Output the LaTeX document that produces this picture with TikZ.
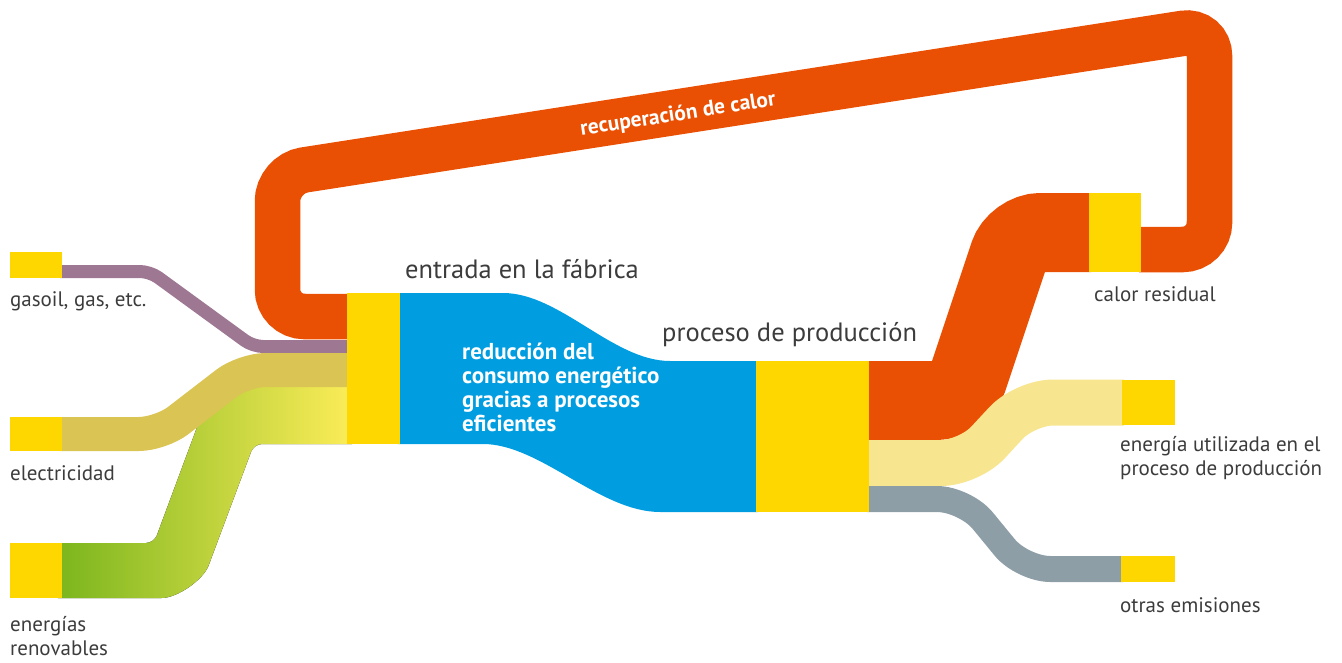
\documentclass[tikz,border=0pt]{standalone}
\usepackage{fontspec}
\setmainfont{PT Sans}
\usetikzlibrary{positioning}
\definecolor{boxyellow}{HTML}{FFD700}
\definecolor{heatorange}{HTML}{EA5004}
\definecolor{gaspurple}{HTML}{9E7893}
\definecolor{eleckhaki}{HTML}{DAC453}
\definecolor{renewdark}{HTML}{78B41C}
\definecolor{renewmid}{HTML}{CBD73C}
\definecolor{renewlight}{HTML}{FFEE5A}
\definecolor{flowblue}{HTML}{009EE0}
\definecolor{usedbeige}{HTML}{F7E590}
\definecolor{emitgray}{HTML}{8E9EA6}
\definecolor{txtgray}{HTML}{3C3C3C}

\begin{document}
\begin{tikzpicture}[x=1pt,y=-1pt,
    ybox/.style={fill=boxyellow, inner sep=0pt, outer sep=0pt, anchor=north west},
    band/.style={line cap=butt, rounded corners=#1},
    lbl/.style={text=txtgray, inner sep=0pt, align=left, font=\fontsize{21}{24}\selectfont},
    toplbl/.style={text=txtgray, inner sep=0pt, font=\fontsize{26.5}{28}\selectfont},
    wlbl/.style={text=white, inner sep=0pt, align=left, font=\bfseries\fontsize{23}{24}\selectfont}]
  \useasboundingbox (0,0) rectangle (1342,662);

  \draw[band=27pt, heatorange, line width=45.5pt] (349,316.5) -- (277.5,316.5) -- (277.5,174.1)
    -- (1209.5,29.2) -- (1209.5,249.5) -- (1139,249.5);
  \draw[band=10pt, gaspurple, line width=13pt] (60,271.5) -- (150,271.5) -- (253,346.5) -- (349,346.5);
  \fill[rounded corners=8pt, left color=renewdark, middle color=renewmid, right color=renewlight]
    (50,543) -- (154,543) -- (212,387) -- (360,387) -- (360,444) -- (254,444) -- (211.5,557.7)
    .. controls (203.3,579.9) and (177.2,598) .. (153.5,598) -- (50,598) -- cycle;
  \draw[band=22pt, eleckhaki, line width=34pt] (60,434) -- (160.7,434) -- (243.8,370) -- (349,370);
  \fill[flowblue] (398,293) -- (503,293) .. controls (560,293) and (613,361) .. (670,361)
    -- (758,361) -- (758,512) -- (660,512) .. controls (600,512) and (540,444) .. (483,444)
    -- (398,444) -- cycle;
  \draw[band=24pt, heatorange, line width=79pt] (867,400.5) -- (960.5,400.5) -- (1016.5,232.5) -- (1091,232.5);
  \draw[band=28pt, usedbeige, line width=46pt] (867,463) -- (969,463) -- (1025,402.5) -- (1124,402.5);
  \draw[band=28pt, emitgray, line width=26pt] (867,499) -- (965,499) -- (1022.4,569) -- (1123,569);

  \node[ybox, minimum width=52pt, minimum height=26pt] (gasoil) at (10,252) {};
  \node[ybox, minimum width=52pt, minimum height=34pt] (elec) at (10,417) {};
  \node[ybox, minimum width=52pt, minimum height=55pt] (renov) at (10,543) {};
  \node[ybox, minimum width=53pt, minimum height=151pt] (entrada) at (347,293) {};
  \node[ybox, minimum width=113pt, minimum height=151pt] (proceso) at (756,361) {};
  \node[ybox, minimum width=52pt, minimum height=79pt] (calor) at (1089,193) {};
  \node[ybox, minimum width=53pt, minimum height=45pt] (util) at (1122,380) {};
  \node[ybox, minimum width=54pt, minimum height=26pt] (otras) at (1121,556) {};

  \node[lbl, below=28pt of gasoil.south west, anchor=base west] (gasoil-lbl) {gasoil, gas, etc.};
  \node[lbl, below=29pt of elec.south west, anchor=base west] (elec-lbl) {electricidad};
  \node[lbl, below=57pt of renov.south west, anchor=base west] (renov-lbl) {energías\\renovables};
  \node[lbl, below=29pt of calor.south west, anchor=base west, xshift=5pt] (calor-lbl) {calor residual};
  \node[lbl, below=50pt of util.south west, anchor=base west, xshift=-2pt] (util-lbl)
    {energía utilizada en el\\proceso de producción};
  \node[lbl, below=30pt of otras.south west, anchor=base west, xshift=-1pt] (otras-lbl) {otras emisiones};
  \node[toplbl, above=15pt of entrada.north west, anchor=base west, xshift=58pt] (entrada-lbl)
    {entrada en la fábrica};
  \node[toplbl, above=20pt of proceso.north west, anchor=base west, xshift=-94pt] (proceso-lbl)
    {proceso de producción};
  \node[wlbl, anchor=base west] (ahorro-lbl) at (462,431.5)
    {reducción del\\consumo energético\\gracias a procesos\\eficientes};
  \node[wlbl, font=\bfseries\fontsize{21.5}{24}\selectfont, rotate=8.84] (recup-lbl) at (678,115)
    {recuperación de calor};
\end{tikzpicture}
\end{document}
